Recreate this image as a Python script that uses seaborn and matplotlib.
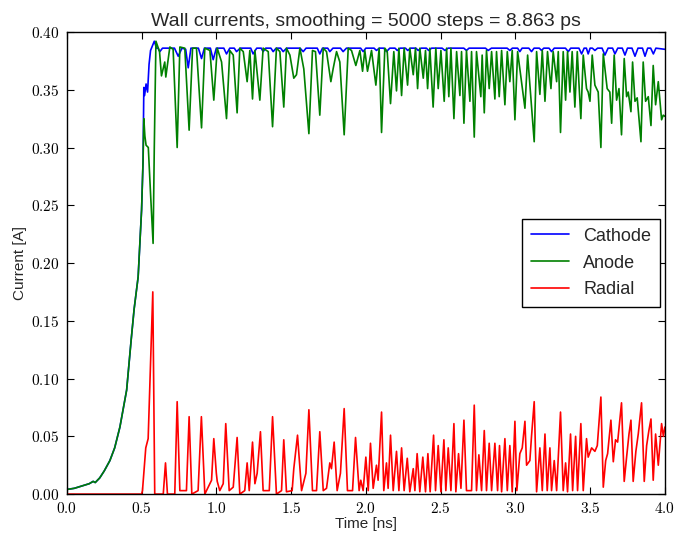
import numpy as np
import pandas as pd
import matplotlib
matplotlib.use('Agg')
import matplotlib.pyplot as plt
import seaborn as sns
from matplotlib.ticker import MultipleLocator, FuncFormatter

# Shared rising part (cathode and anode identical before the split)
t_rise = [0.0, 0.05, 0.10, 0.15, 0.176, 0.19, 0.22, 0.25, 0.288, 0.32, 0.355,
          0.40, 0.43, 0.45, 0.477, 0.50, 0.51]
i_rise = [0.004, 0.005, 0.007, 0.009, 0.011, 0.010, 0.014, 0.020, 0.029, 0.040,
          0.058, 0.090, 0.133, 0.160, 0.188, 0.246, 0.289]

# Cathode after the split (time [ns], current [A])
cathode_tail = [
    (0.515, 0.352), (0.52, 0.345), (0.53, 0.355), (0.54, 0.348), (0.55, 0.372),
    (0.56, 0.384), (0.585, 0.392), (0.60, 0.386), (0.61, 0.386), (0.622, 0.383),
    (0.64, 0.386), (0.72, 0.386), (0.745, 0.379), (0.77, 0.386), (0.795, 0.385),
    (0.812, 0.369), (0.83, 0.386), (0.88, 0.386), (0.901, 0.377), (0.92, 0.386),
    (0.96, 0.386), (0.979, 0.376), (1.0, 0.386), (1.05, 0.386), (1.068, 0.381),
    (1.09, 0.386), (1.12, 0.386), (1.135, 0.383), (1.16, 0.386), (1.23, 0.386),
    (1.246, 0.381), (1.27, 0.386), (1.30, 0.386), (1.313, 0.383), (1.33, 0.386),
    (1.365, 0.386), (1.380, 0.383), (1.40, 0.386), (1.43, 0.386), (1.447, 0.383),
    (1.47, 0.386), (1.56, 0.386), (1.581, 0.383), (1.60, 0.386), (1.675, 0.386),
    (1.692, 0.381), (1.71, 0.386), (1.745, 0.386), (1.759, 0.383), (1.78, 0.386),
    (1.83, 0.386), (1.848, 0.383), (1.87, 0.386), (1.965, 0.386), (1.982, 0.383),
    (2.00, 0.386), (2.055, 0.386), (2.071, 0.384), (2.09, 0.386), (2.12, 0.386),
    (2.138, 0.383), (2.16, 0.386), (2.195, 0.386), (2.21, 0.384), (2.23, 0.386),
    (2.265, 0.386), (2.28, 0.384), (2.30, 0.386), (2.335, 0.386), (2.35, 0.384),
    (2.37, 0.386), (2.405, 0.386), (2.42, 0.384), (2.44, 0.386), (2.51, 0.386),
    (2.529, 0.384), (2.55, 0.386), (2.655, 0.386), (2.673, 0.384), (2.69, 0.386),
    (2.80, 0.386), (2.818, 0.384), (2.84, 0.386), (2.945, 0.386), (2.963, 0.384),
    (2.98, 0.386), (3.015, 0.386), (3.030, 0.383), (3.045, 0.386), (3.09, 0.386),
    (3.108, 0.383), (3.125, 0.386), (3.16, 0.386), (3.175, 0.384), (3.19, 0.386),
    (3.225, 0.386), (3.242, 0.383), (3.26, 0.386), (3.335, 0.386), (3.354, 0.383),
    (3.37, 0.386), (3.425, 0.386), (3.443, 0.381), (3.46, 0.386), (3.475, 0.386),
    (3.487, 0.381), (3.50, 0.386), (3.515, 0.386), (3.532, 0.384), (3.55, 0.386),
    (3.58, 0.386), (3.599, 0.380), (3.62, 0.386), (3.65, 0.386), (3.666, 0.381),
    (3.685, 0.386), (3.715, 0.386), (3.733, 0.380), (3.75, 0.386), (3.78, 0.386),
    (3.800, 0.379), (3.82, 0.386), (3.85, 0.386), (3.867, 0.379), (3.885, 0.386),
    (3.905, 0.386), (3.923, 0.381), (3.94, 0.386), (4.0, 0.385),
]

# Anode after the split
anode_tail = [
    (0.515, 0.325), (0.522, 0.310), (0.53, 0.302), (0.545, 0.300), (0.56, 0.260),
    (0.577, 0.217), (0.585, 0.300), (0.596, 0.392), (0.62, 0.383), (0.633, 0.362),
    (0.655, 0.374), (0.662, 0.361), (0.689, 0.387), (0.711, 0.385), (0.738, 0.300),
    (0.756, 0.387), (0.789, 0.386), (0.818, 0.315), (0.841, 0.386), (0.867, 0.386),
    (0.901, 0.317), (0.923, 0.386), (0.957, 0.384), (0.983, 0.341), (1.006, 0.386),
    (1.035, 0.374), (1.068, 0.325), (1.090, 0.384), (1.113, 0.380), (1.139, 0.330),
    (1.157, 0.386), (1.180, 0.383), (1.206, 0.357), (1.224, 0.384), (1.242, 0.342),
    (1.258, 0.384), (1.291, 0.341), (1.313, 0.386), (1.347, 0.383), (1.376, 0.318),
    (1.402, 0.386), (1.425, 0.383), (1.451, 0.335), (1.469, 0.386), (1.492, 0.380),
    (1.518, 0.360), (1.536, 0.363), (1.559, 0.386), (1.585, 0.368), (1.619, 0.312),
    (1.643, 0.384), (1.663, 0.383), (1.692, 0.328), (1.715, 0.386), (1.737, 0.383),
    (1.766, 0.357), (1.781, 0.368), (1.804, 0.383), (1.826, 0.374), (1.855, 0.311),
    (1.882, 0.386), (1.904, 0.384), (1.933, 0.371), (1.960, 0.384), (1.978, 0.366),
    (1.993, 0.384), (2.011, 0.366), (2.038, 0.384), (2.067, 0.354), (2.089, 0.386),
    (2.105, 0.313), (2.127, 0.386), (2.143, 0.383), (2.165, 0.338), (2.187, 0.383),
    (2.205, 0.349), (2.221, 0.386), (2.239, 0.345), (2.256, 0.386), (2.279, 0.354),
    (2.294, 0.386), (2.317, 0.363), (2.332, 0.386), (2.346, 0.351), (2.361, 0.386),
    (2.384, 0.360), (2.399, 0.384), (2.413, 0.351), (2.428, 0.386), (2.450, 0.335),
    (2.468, 0.386), (2.484, 0.351), (2.502, 0.384), (2.524, 0.340), (2.540, 0.386),
    (2.555, 0.344), (2.569, 0.386), (2.589, 0.325), (2.607, 0.383), (2.629, 0.345),
    (2.640, 0.383), (2.656, 0.321), (2.673, 0.384), (2.696, 0.340), (2.707, 0.383),
    (2.725, 0.309), (2.740, 0.383), (2.769, 0.344), (2.778, 0.380), (2.792, 0.330),
    (2.807, 0.384), (2.825, 0.351), (2.841, 0.383), (2.863, 0.342), (2.874, 0.383),
    (2.892, 0.344), (2.908, 0.384), (2.930, 0.337), (2.946, 0.383), (2.963, 0.357),
    (2.979, 0.384), (2.997, 0.324), (3.015, 0.383), (3.041, 0.357), (3.064, 0.334),
    (3.082, 0.380), (3.097, 0.354), (3.126, 0.305), (3.142, 0.383), (3.164, 0.346),
    (3.180, 0.384), (3.198, 0.340), (3.215, 0.383), (3.238, 0.351), (3.253, 0.383),
    (3.276, 0.357), (3.287, 0.383), (3.302, 0.313), (3.320, 0.383), (3.336, 0.341),
    (3.349, 0.383), (3.365, 0.348), (3.380, 0.383), (3.398, 0.335), (3.414, 0.383),
    (3.438, 0.325), (3.454, 0.380), (3.476, 0.351), (3.487, 0.348), (3.499, 0.340),
    (3.514, 0.380), (3.532, 0.354), (3.554, 0.348), (3.572, 0.300), (3.588, 0.381),
    (3.614, 0.351), (3.632, 0.348), (3.644, 0.321), (3.661, 0.380), (3.677, 0.341),
    (3.693, 0.351), (3.710, 0.311), (3.728, 0.377), (3.744, 0.344), (3.755, 0.348),
    (3.773, 0.331), (3.784, 0.374), (3.800, 0.340), (3.815, 0.343), (3.840, 0.305),
    (3.855, 0.374), (3.871, 0.340), (3.889, 0.344), (3.907, 0.319), (3.922, 0.371),
    (3.938, 0.337), (3.956, 0.357), (3.978, 0.324), (3.989, 0.328), (4.0, 0.327),
]

# Radial current
radial = [
    (0.0, 0.0), (0.50, 0.0), (0.506, 0.003), (0.528, 0.040), (0.544, 0.048),
    (0.575, 0.175), (0.588, 0.0), (0.645, 0.0), (0.660, 0.027), (0.673, 0.0),
    (0.722, 0.0), (0.738, 0.080), (0.756, 0.003), (0.800, 0.003), (0.818, 0.067),
    (0.836, 0.0), (0.878, 0.003), (0.900, 0.067), (0.923, 0.0), (0.968, 0.012),
    (0.983, 0.048), (1.0, 0.018), (1.006, 0.011), (1.023, 0.003), (1.046, 0.009),
    (1.063, 0.061), (1.086, 0.003), (1.113, 0.006), (1.139, 0.049), (1.157, 0.0),
    (1.190, 0.003), (1.206, 0.027), (1.220, 0.003), (1.242, 0.045), (1.258, 0.009),
    (1.273, 0.018), (1.295, 0.054), (1.313, 0.003), (1.354, 0.003), (1.376, 0.067),
    (1.402, 0.0), (1.436, 0.003), (1.451, 0.047), (1.469, 0.002), (1.507, 0.003),
    (1.518, 0.022), (1.543, 0.051), (1.570, 0.003), (1.599, 0.018), (1.619, 0.073),
    (1.643, 0.003), (1.670, 0.003), (1.692, 0.054), (1.715, 0.003), (1.737, 0.005),
    (1.759, 0.027), (1.770, 0.022), (1.788, 0.045), (1.808, 0.003), (1.830, 0.018),
    (1.855, 0.074), (1.877, 0.003), (1.911, 0.003), (1.931, 0.049), (1.955, 0.003),
    (1.966, 0.012), (1.982, 0.003), (2.000, 0.032), (2.016, 0.003), (2.031, 0.044),
    (2.049, 0.005), (2.071, 0.025), (2.082, 0.012), (2.105, 0.071), (2.120, 0.003),
    (2.138, 0.027), (2.149, 0.005), (2.165, 0.051), (2.183, 0.003), (2.205, 0.037),
    (2.221, 0.003), (2.239, 0.040), (2.256, 0.003), (2.277, 0.031), (2.294, 0.002),
    (2.317, 0.022), (2.328, 0.003), (2.343, 0.035), (2.361, 0.002), (2.381, 0.032),
    (2.399, 0.002), (2.415, 0.035), (2.430, 0.002), (2.453, 0.051), (2.466, 0.003),
    (2.484, 0.042), (2.502, 0.002), (2.522, 0.047), (2.535, 0.003), (2.551, 0.040),
    (2.569, 0.003), (2.589, 0.061), (2.602, 0.002), (2.620, 0.035), (2.636, 0.005),
    (2.656, 0.064), (2.673, 0.003), (2.707, 0.003), (2.725, 0.077), (2.740, 0.003),
    (2.756, 0.034), (2.774, 0.003), (2.792, 0.055), (2.807, 0.003), (2.825, 0.044),
    (2.841, 0.003), (2.863, 0.044), (2.881, 0.003), (2.894, 0.042), (2.908, 0.002),
    (2.930, 0.048), (2.946, 0.003), (2.963, 0.042), (2.979, 0.002), (2.997, 0.063),
    (3.010, 0.003), (3.030, 0.035), (3.046, 0.040), (3.064, 0.063), (3.075, 0.025),
    (3.097, 0.029), (3.108, 0.050), (3.126, 0.080), (3.142, 0.002), (3.164, 0.040),
    (3.180, 0.003), (3.198, 0.052), (3.213, 0.003), (3.231, 0.040), (3.242, 0.003),
    (3.260, 0.029), (3.276, 0.003), (3.302, 0.071), (3.320, 0.003), (3.336, 0.027),
    (3.349, 0.002), (3.369, 0.052), (3.383, 0.003), (3.403, 0.050), (3.416, 0.003),
    (3.438, 0.061), (3.454, 0.003), (3.476, 0.048), (3.487, 0.032), (3.510, 0.040),
    (3.532, 0.037), (3.548, 0.042), (3.572, 0.084), (3.588, 0.006), (3.604, 0.029),
    (3.617, 0.035), (3.639, 0.064), (3.655, 0.028), (3.670, 0.047), (3.684, 0.045),
    (3.710, 0.079), (3.728, 0.011), (3.744, 0.032), (3.760, 0.052), (3.773, 0.064),
    (3.788, 0.011), (3.806, 0.037), (3.822, 0.052), (3.844, 0.079), (3.862, 0.011),
    (3.878, 0.042), (3.893, 0.055), (3.907, 0.065), (3.922, 0.012), (3.938, 0.052),
    (3.956, 0.025), (3.978, 0.061), (3.990, 0.050), (4.0, 0.058),
]

series_names = ['Cathode', 'Anode', 'Radial']
series_colors = {'Cathode': 'blue', 'Anode': 'green', 'Radial': 'red'}


def to_frame(name, t, i):
    return pd.DataFrame({'time': t, 'current': i, 'series': name})


t_c, i_c = zip(*cathode_tail)
t_a, i_a = zip(*anode_tail)
t_r, i_r = zip(*radial)

df = pd.concat([
    to_frame('Cathode', t_rise + list(t_c), i_rise + list(i_c)),
    to_frame('Anode', t_rise + list(t_a), i_rise + list(i_a)),
    to_frame('Radial', list(t_r), list(i_r)),
], ignore_index=True)

sns.set_style('ticks')
plt.rcParams['font.family'] = ['Liberation Sans', 'DejaVu Sans']
plt.rcParams['mathtext.fontset'] = 'cm'

fig = plt.figure(figsize=(6.75, 5.33), dpi=100)
ax = fig.add_axes([0.099, 0.073, 0.886, 0.867])

sns.lineplot(data=df, x='time', y='current', hue='series', hue_order=series_names,
             palette=series_colors, estimator=None, sort=False, lw=1.2, ax=ax)

ax.set_xlim(0, 4)
ax.set_ylim(0, 0.4)
ax.xaxis.set_major_locator(MultipleLocator(0.5))
ax.yaxis.set_major_locator(MultipleLocator(0.05))
ax.xaxis.set_major_formatter(FuncFormatter(lambda v, p: r'$%.1f$' % v))
ax.yaxis.set_major_formatter(FuncFormatter(lambda v, p: r'$%.2f$' % v))
ax.tick_params(direction='in', length=5, width=0.8, top=True, right=True,
               labelsize=11, colors='black', pad=5)
for s in ax.spines.values():
    s.set_linewidth(1.0)
    s.set_color('black')

ax.set_title('Wall currents, smoothing = 5000 steps = 8.863 ps', fontsize=14, pad=4)
ax.set_xlabel('Time [ns]', fontsize=11, labelpad=1)
ax.set_ylabel('Current [A]', fontsize=11, labelpad=3)

leg = ax.legend(loc='center right', bbox_to_anchor=(1.0, 0.5), fontsize=13,
                frameon=True, fancybox=False, borderaxespad=0.25,
                handlelength=2.1, handletextpad=0.8, labelspacing=0.55,
                borderpad=0.5)
leg.get_frame().set_edgecolor('black')
leg.get_frame().set_linewidth(1.0)
leg.get_frame().set_alpha(1.0)

fig.savefig('out.png', dpi=100)
